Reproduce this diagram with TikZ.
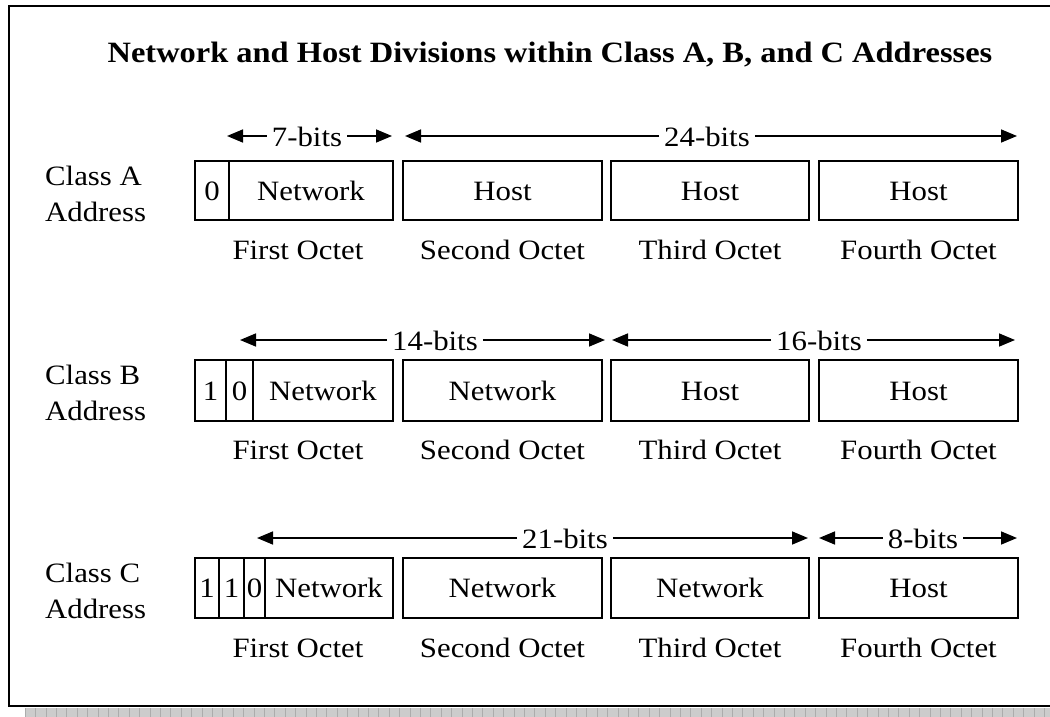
\documentclass[tikz,border=0pt]{standalone}
\usepackage{fontspec}
\setmainfont[FakeStretch=1.1]{Liberation Serif}
\usetikzlibrary{arrows.meta}
\begin{document}
\begin{tikzpicture}[x=1pt,y=-1pt,
  every node/.style={font=\fontsize{28}{36}\selectfont, inner sep=0pt},
  cell/.style={draw, line width=1.8pt, inner sep=0pt, text height=19pt, text depth=0pt},
  bitarr/.style={line width=1.6pt, -{Triangle[length=16pt,width=13pt]}},
  bitlbl/.style={anchor=base, inner xsep=5pt},
  octlbl/.style={anchor=base},
  classlbl/.style={anchor=west, align=left},
  titlelbl/.style={anchor=base, font=\fontsize{29.5}{34}\selectfont\bfseries}
]
\useasboundingbox (0,0) rectangle (1050,717);
% shadow
\fill[gray!40] (25,708) rectangle (1050,717);
\foreach \i in {0,...,98} {\draw[gray!65, line width=0.6pt] (25+10.4*\i,708) -- (25+10.4*\i,717);}
% frame
\draw[line width=2pt, fill=white] (9,6) rectangle (1065,706);

% title
\node[titlelbl] (title) at (550,63) {Network and Host Divisions within Class A, B, and C Addresses};

% class labels
\node[classlbl] (clA) at (45,194) {Class A\\Address};
\node[classlbl] (clB) at (45,393) {Class B\\Address};
\node[classlbl] (clC) at (45,591) {Class C\\Address};

% Row A
\node[cell, minimum width=34pt, minimum height=59pt] (a0) at (212,190.5) {0};
\node[cell, minimum width=164pt, minimum height=59pt] (a1) at (311,190.5) {Network};
\node[cell, minimum width=199pt, minimum height=59pt] (a2) at (502.5,190.5) {Host};
\node[cell, minimum width=198pt, minimum height=59pt] (a3) at (710,190.5) {Host};
\node[cell, minimum width=199pt, minimum height=59pt] (a4) at (918.5,190.5) {Host};

% Row B
\node[cell, minimum width=31pt, minimum height=61pt] (b0) at (210.5,390.5) {1};
\node[cell, minimum width=27pt, minimum height=61pt] (b1) at (239.5,390.5) {0};
\node[cell, minimum width=140pt, minimum height=61pt] (b2) at (323,390.5) {Network};
\node[cell, minimum width=199pt, minimum height=61pt] (b3) at (502.5,390.5) {Network};
\node[cell, minimum width=198pt, minimum height=61pt] (b4) at (710,390.5) {Host};
\node[cell, minimum width=199pt, minimum height=61pt] (b5) at (918.5,390.5) {Host};

% Row C
\node[cell, minimum width=24pt, minimum height=60pt] (c0) at (207,588) {1};
\node[cell, minimum width=25pt, minimum height=60pt] (c1) at (231.5,588) {1};
\node[cell, minimum width=21pt, minimum height=60pt] (c2) at (254.5,588) {0};
\node[cell, minimum width=128pt, minimum height=60pt] (c3) at (329,588) {Network};
\node[cell, minimum width=199pt, minimum height=60pt] (c4) at (502.5,588) {Network};
\node[cell, minimum width=198pt, minimum height=60pt] (c5) at (710,588) {Network};
\node[cell, minimum width=199pt, minimum height=60pt] (c6) at (918.5,588) {Host};

% octet labels
\foreach \r/\y in {A/259,B/459,C/657} {
  \node[octlbl] (first\r) at (298,\y) {First Octet};
  \node[octlbl] (second\r) at (502.5,\y) {Second Octet};
  \node[octlbl] (third\r) at (710,\y) {Third Octet};
  \node[octlbl] (fourth\r) at (918.5,\y) {Fourth Octet};
}

% bit arrows, row A
\coordinate (A7L) at (227,136);  \coordinate (A7R) at (392,136);
\coordinate (A24L) at (405,136); \coordinate (A24R) at (1017,136);
\node[bitlbl] (l7) at (307,146) {7-bits};
\node[bitlbl] (l24) at (707,146) {24-bits};
\draw[bitarr] (l7.west |- A7L) -- (A7L);
\draw[bitarr] (l7.east |- A7R) -- (A7R);
\draw[bitarr] (l24.west |- A24L) -- (A24L);
\draw[bitarr] (l24.east |- A24R) -- (A24R);

% bit arrows, row B
\coordinate (B14L) at (240,340); \coordinate (B14R) at (605,340);
\coordinate (B16L) at (612,340); \coordinate (B16R) at (1015,340);
\node[bitlbl] (l14) at (435,350) {14-bits};
\node[bitlbl] (l16) at (819,350) {16-bits};
\draw[bitarr] (l14.west |- B14L) -- (B14L);
\draw[bitarr] (l14.east |- B14R) -- (B14R);
\draw[bitarr] (l16.west |- B16L) -- (B16L);
\draw[bitarr] (l16.east |- B16R) -- (B16R);

% bit arrows, row C
\coordinate (C21L) at (257,538); \coordinate (C21R) at (808,538);
\coordinate (C8L) at (819,538);  \coordinate (C8R) at (1017,538);
\node[bitlbl] (l21) at (565,548) {21-bits};
\node[bitlbl] (l8) at (923,548) {8-bits};
\draw[bitarr] (l21.west |- C21L) -- (C21L);
\draw[bitarr] (l21.east |- C21R) -- (C21R);
\draw[bitarr] (l8.west |- C8L) -- (C8L);
\draw[bitarr] (l8.east |- C8R) -- (C8R);
\end{tikzpicture}
\end{document}
